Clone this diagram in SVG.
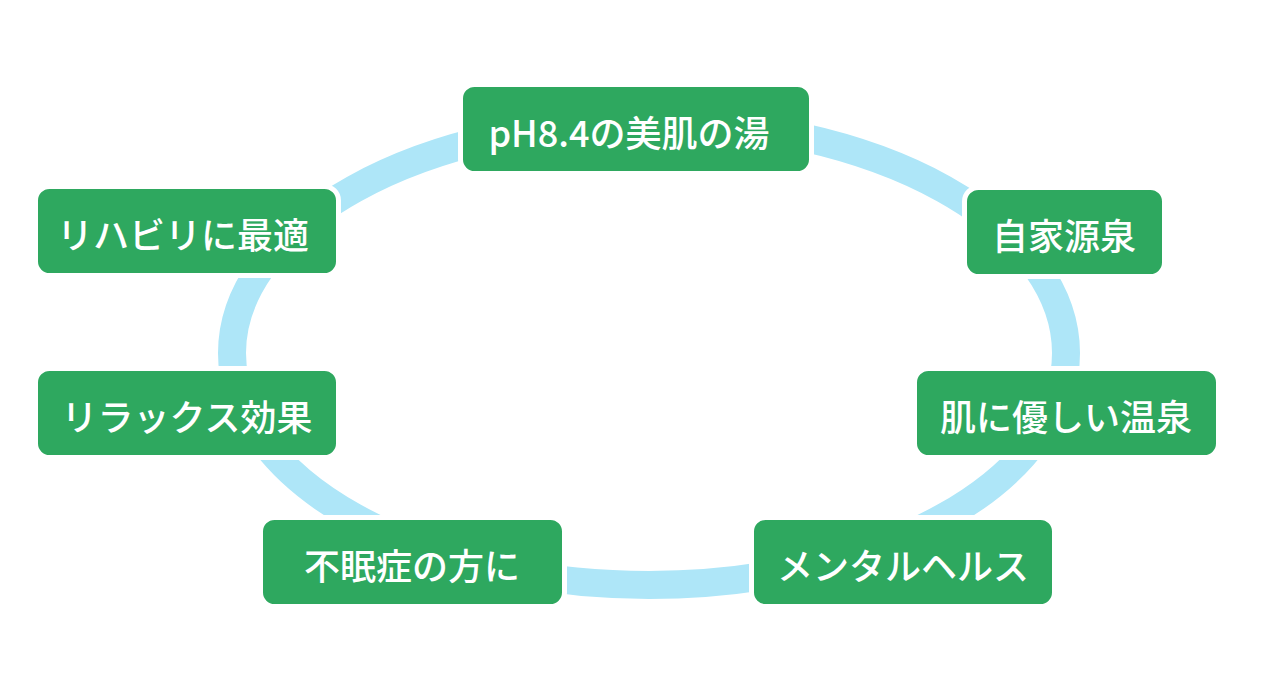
<svg xmlns="http://www.w3.org/2000/svg" width="1283" height="688" viewBox="0 0 1283 688">
<style>
.box{fill:#2ea85f;stroke:#ffffff;stroke-width:5}
.lbl{fill:#ffffff;font-family:"Noto Sans CJK JP","Noto Sans",sans-serif;font-size:36px;font-weight:500;text-anchor:middle;dominant-baseline:central}
.ring{fill:none;stroke:#aee6f8;stroke-width:28}
</style>
<rect width="1283" height="688" fill="#ffffff"/>
<g id="connectors">
<ellipse class="ring" cx="649" cy="353" rx="417" ry="232"/>
</g>
<g id="n1"><rect class="box" x="460.5" y="84.5" width="351" height="89" rx="14"/><text class="lbl" x="629" y="131">pH8.4の美肌の湯</text></g>
<g id="n2"><rect class="box" x="964.5" y="187.5" width="200" height="89" rx="14"/><text class="lbl" x="1064" y="234">自家源泉</text></g>
<g id="n3"><rect class="box" x="914.5" y="368.5" width="304" height="89" rx="14"/><text class="lbl" x="1066" y="415">肌に優しい温泉</text></g>
<g id="n4"><rect class="box" x="751.5" y="517.5" width="303" height="89" rx="14"/><text class="lbl" x="903" y="564">メンタルヘルス</text></g>
<g id="n5"><rect class="box" x="260.5" y="517.5" width="304" height="89" rx="14"/><text class="lbl" x="412" y="564">不眠症の方に</text></g>
<g id="n6"><rect class="box" x="35.5" y="368.5" width="303" height="89" rx="14"/><text class="lbl" x="187" y="415">リラックス効果</text></g>
<g id="n7"><rect class="box" x="35.5" y="186.5" width="303" height="89" rx="14"/><text class="lbl" x="183" y="233">リハビリに最適</text></g>
</svg>
